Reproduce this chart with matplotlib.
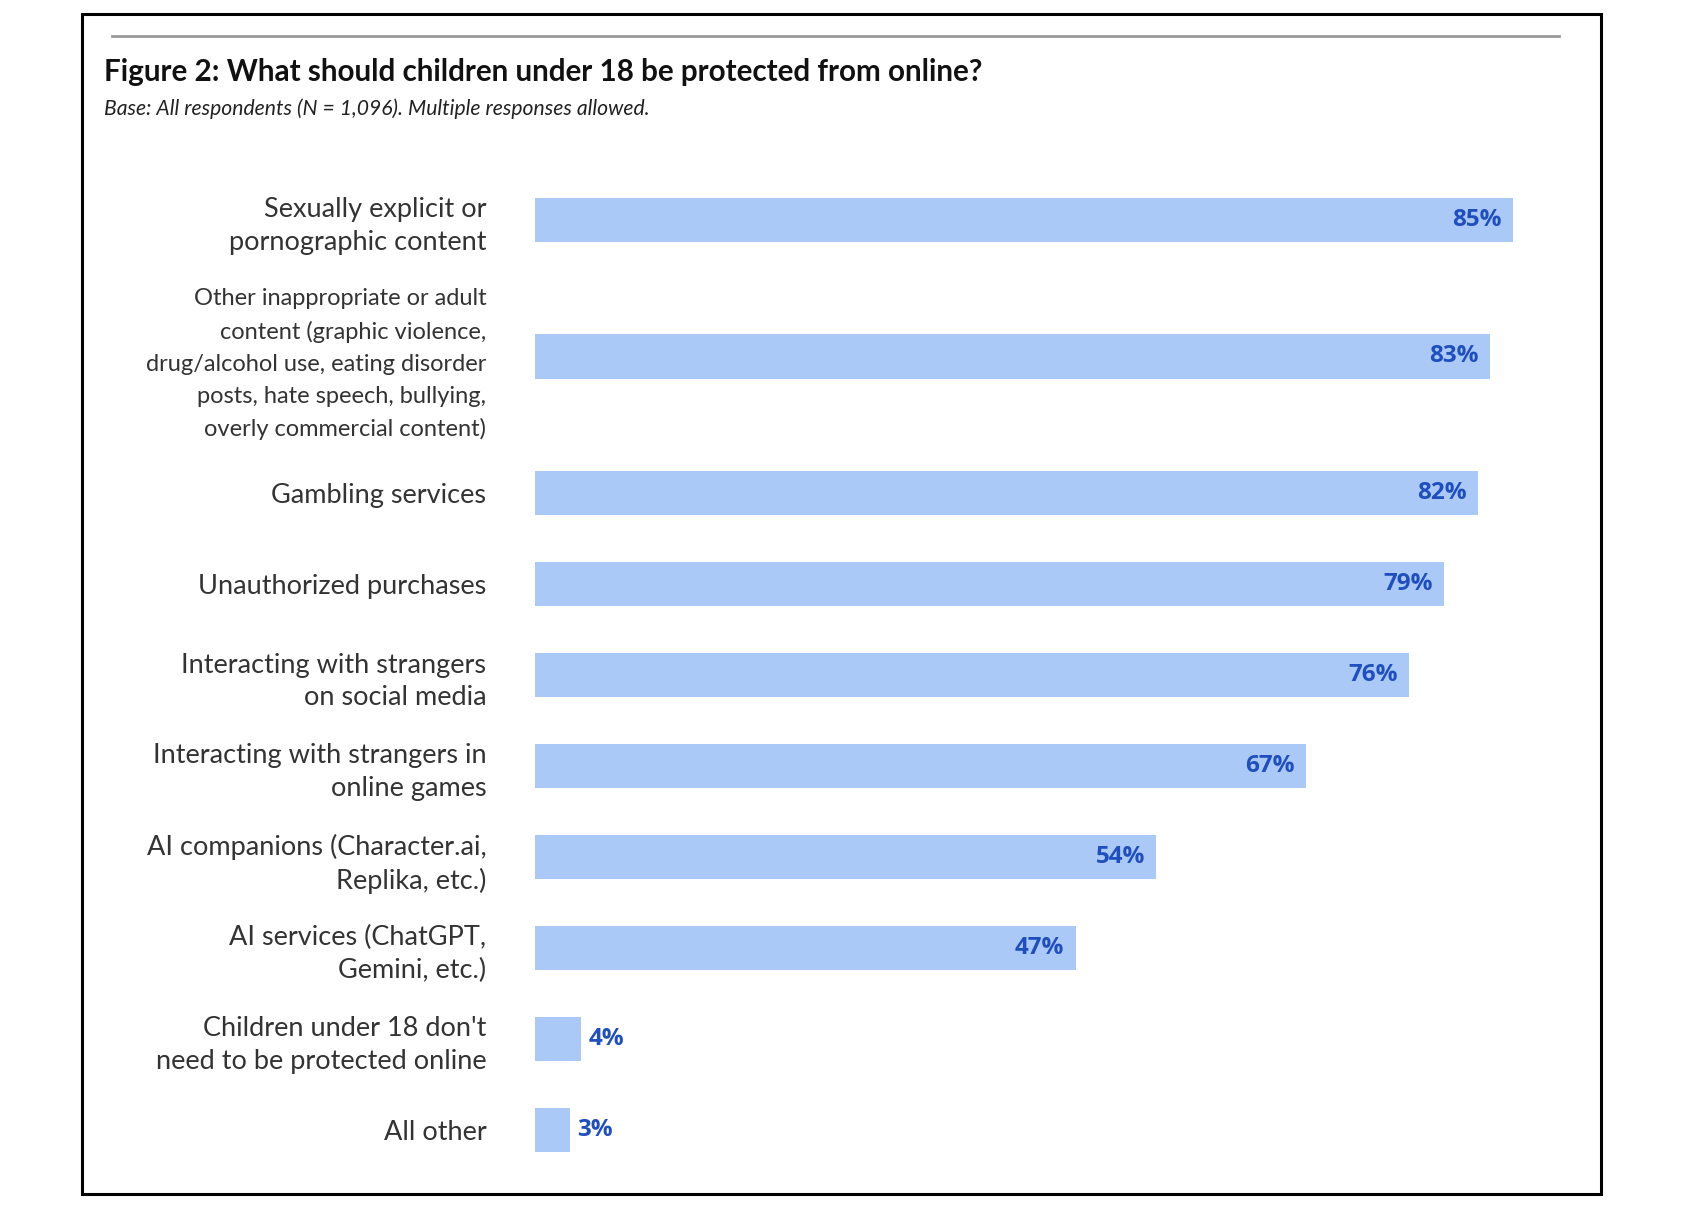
import matplotlib.pyplot as plt
from matplotlib.patches import Rectangle
from matplotlib.lines import Line2D

categories = [
    "Sexually explicit or\npornographic content",
    "Other inappropriate or adult\ncontent (graphic violence,\ndrug/alcohol use, eating disorder\nposts, hate speech, bullying,\noverly commercial content)",
    "Gambling services",
    "Unauthorized purchases",
    "Interacting with strangers\non social media",
    "Interacting with strangers in\nonline games",
    "AI companions (Character.ai,\nReplika, etc.)",
    "AI services (ChatGPT,\nGemini, etc.)",
    "Children under 18 don't\nneed to be protected online",
    "All other",
]
values = [85, 83, 82, 79, 76, 67, 54, 47, 4, 3]
# gap before each row (the long second label gets extra room)
gaps = [0, 1.5, 1.5, 1, 1, 1, 1, 1, 1, 1]

bar_color = "#abc9f6"
value_color = "#1f4fbf"
label_color = "#333333"

W, H = 1688, 1206
fig = plt.figure(figsize=(W / 100, H / 100), dpi=100)

# frame and top rule
fig.add_artist(Rectangle((82 / W, 1 - 1194 / H), (1601 - 82) / W, (1194 - 14) / H,
                         transform=fig.transFigure, fill=False, edgecolor="black", linewidth=2.2))
fig.add_artist(Line2D([112 / W, 1559 / W], [1 - 35.5 / H, 1 - 35.5 / H],
                      transform=fig.transFigure, color="#9a9a9a", linewidth=2))

fig.text(104 / W, 1 - 81 / H, "Figure 2: What should children under 18 be protected from online?",
         fontfamily="Lato", fontweight="bold", fontsize=21.3, color="#111111", va="baseline")
fig.text(104 / W, 1 - 115 / H, "Base: All respondents (N = 1,096). Multiple responses allowed.",
         fontfamily="Lato", fontstyle="italic", fontsize=15.2, color="#222222", va="baseline")

# axes placement: bars from x=535 (0%) to 1513 (85%), rows centred 220..1130 px
left, right = 535, 1513
top, bottom = 220 - 45.5, 1130 + 45.5
ax = fig.add_axes([left / W, 1 - bottom / H, (right - left) / W, (bottom - top) / H])

pos = []
acc = 0
for g in gaps:
    acc += g
    pos.append(acc)

ax.barh(pos, values, height=0.49, color=bar_color)
ax.set_xlim(0, 85)
ax.set_ylim(pos[-1] + 0.5, pos[0] - 0.5)

for p, v in zip(pos, values):
    if v > 10:
        ax.text(v - 1.0, p, f"{v}%", ha="right", va="center", fontfamily="Open Sans",
                fontweight="bold", fontsize=17.5, color=value_color)
    else:
        ax.text(v + 0.7, p, f"{v}%", ha="left", va="center", fontfamily="Open Sans",
                fontweight="bold", fontsize=17.5, color=value_color)

ax.set_yticks(pos)
ax.set_yticklabels(categories, fontfamily="Lato", fontsize=19.5, color=label_color,
                   linespacing=1.38)
# the long five-line label is set smaller in the original
lab = ax.get_yticklabels()[1]
lab.set_fontsize(17)
lab.set_linespacing(1.64)
ax.tick_params(axis="y", length=0, pad=35)
ax.set_xticks([])
for s in ax.spines.values():
    s.set_visible(False)

fig.savefig("out.png", dpi=100)
